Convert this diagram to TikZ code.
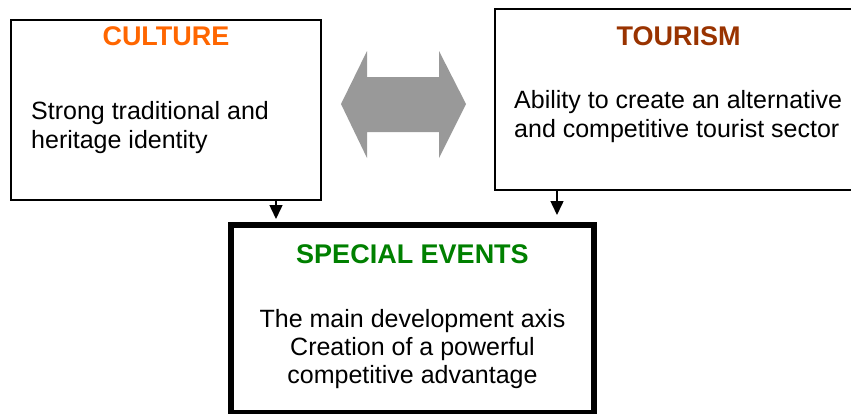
\documentclass[tikz,border=0pt]{standalone}
\usepackage{fontspec}
\setmainfont{Liberation Sans}
\usetikzlibrary{arrows.meta}
\definecolor{cultorange}{HTML}{FF6600}
\definecolor{tourbrown}{HTML}{993300}
\definecolor{evgreen}{HTML}{008000}
\definecolor{arrgray}{HTML}{999999}
\begin{document}
\begin{tikzpicture}[x=1pt,y=-1pt,
  boxthin/.style={draw=black,line width=1.6pt,fill=white,rectangle,inner sep=0pt,outer sep=0pt,anchor=north west},
  boxthick/.style={draw=black,line width=5.5pt,fill=white,rectangle,inner sep=0pt,outer sep=0pt,anchor=north west},
  titletxt/.style={anchor=base,inner sep=0pt,font=\fontsize{27}{30}\selectfont\bfseries},
  bodytxt/.style={anchor=base,inner sep=0pt,font=\fontsize{25}{29}\selectfont},
  downarrow/.style={draw=black,line width=1.5pt,-{Triangle[width=13pt,length=14pt]}}
]
\useasboundingbox (0,0) rectangle (851,413);
\begin{scope}
\clip (0,0) rectangle (851,413);
% boxes
\node[boxthin,minimum width=310pt,minimum height=180pt] (cult) at (11,20) {};
\node[boxthin,minimum width=375pt,minimum height=181pt] (tour) at (495,9) {};
\node[boxthick,minimum width=363pt,minimum height=188pt] (ev) at (231,225) {};
% double arrow between culture and tourism
\fill[arrgray] (341,104) -- (367,51) -- (367,77) -- (439,77) -- (439,51) -- (466,104)
  -- (439,158) -- (439,132) -- (367,132) -- (367,158) -- cycle;
\end{scope}
% connectors
\draw[downarrow,shorten >=6pt] ([xshift=110pt]cult.south) -- ([xshift=110pt]cult.south |- ev.north);
\draw[downarrow,shorten >=10pt] (tour.south -| 557,0) -- (ev.north -| 557,0);
% texts
\node[titletxt,text=cultorange] (culttitle) at (166,45) {CULTURE};
\node[bodytxt,anchor=base west] (cultbody1) at (31,119) {Strong traditional and};
\node[bodytxt,anchor=base west] (cultbody2) at (31,148) {heritage identity};
\node[titletxt,text=tourbrown] (tourtitle) at (678.5,45) {TOURISM};
\node[bodytxt,anchor=base west] (tourbody1) at (514,108) {Ability to create an alternative};
\node[bodytxt,anchor=base west] (tourbody2) at (514,137) {and competitive tourist sector};
\node[titletxt,text=evgreen] (evtitle) at (412.5,263) {SPECIAL EVENTS};
\node[bodytxt] (evbody1) at (412.5,327) {The main development axis};
\node[bodytxt] (evbody2) at (412.5,355) {Creation of a powerful};
\node[bodytxt] (evbody3) at (412.5,383) {competitive advantage};
\end{tikzpicture}
\end{document}
